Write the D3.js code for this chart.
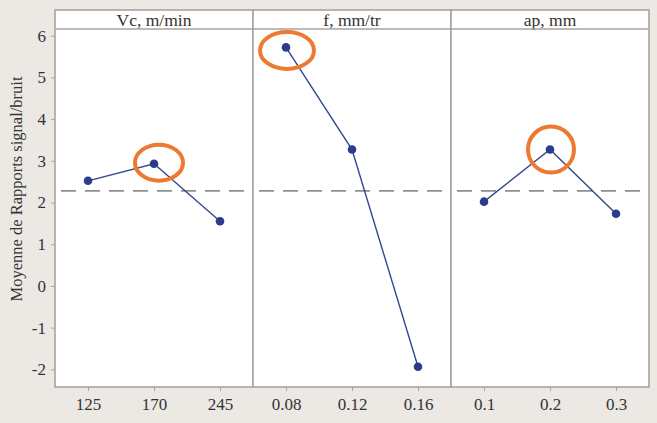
<!DOCTYPE html>
<html><head><meta charset="utf-8">
<script src="https://cdn.jsdelivr.net/npm/d3@7"></script>
<style>
html,body{margin:0;padding:0;background:#ece9e5;}
svg{display:block;}
text{font-family:"Liberation Serif","DejaVu Serif",serif;fill:#333;}
</style></head>
<body>
<svg id="chart" width="657" height="423"></svg>
<script>
const factors = ["Vc, m/min", "f, mm/tr", "ap, mm"];
const levelsVc = ["125", "170", "245"];
const levelsF = ["0.08", "0.12", "0.16"];
const levelsAp = ["0.1", "0.2", "0.3"];
const valuesVc = [2.52, 2.93, 1.55];
const valuesF = [5.72, 3.27, -1.94];
const valuesAp = [2.02, 3.27, 1.73];
const grandMean = 2.28;
const yTicks = [-2, -1, 0, 1, 2, 3, 4, 5, 6];
const highlighted = ["170", "0.08", "0.2"];

const panels = [
  {name: factors[0], levels: levelsVc, values: valuesVc, hl: highlighted[0]},
  {name: factors[1], levels: levelsF, values: valuesF, hl: highlighted[1]},
  {name: factors[2], levels: levelsAp, values: valuesAp, hl: highlighted[2]}
];

const svg = d3.select("#chart");
const mLeft = 55, mRight = 649, mTop = 10, stripH = 19, mBottom = 387;
const plotTop = mTop + stripH;
const panelW = (mRight - mLeft) / panels.length;

const y = d3.scaleLinear().domain([-2, 6]).range([369.3, 35.7]);

const frameColor = "#aaa39c";
const lineColor = "#34478f";
const dotColor = "#2b3d8a";
const orange = "#ed7a30";
const textColor = "#383838";

panels.forEach((p, i) => {
  const x0 = mLeft + i * panelW;
  const g = svg.append("g");
  g.append("rect").attr("x", x0).attr("y", plotTop).attr("width", panelW).attr("height", mBottom - plotTop)
    .attr("fill", "#fff");
  g.append("rect").attr("x", x0).attr("y", mTop).attr("width", panelW).attr("height", stripH)
    .attr("fill", "#fff");
  g.append("text").attr("x", x0 + panelW / 2).attr("y", mTop + 15.5).attr("text-anchor", "middle")
    .attr("font-size", 17.5).attr("fill", textColor).text(p.name);

  const x = d3.scalePoint().domain(p.levels).range([x0, x0 + panelW]).padding(0.5);

  g.append("line").attr("x1", x0 + 6).attr("x2", x0 + panelW - 6)
    .attr("y1", y(grandMean)).attr("y2", y(grandMean))
    .attr("stroke", "#8f8f8f").attr("stroke-width", 1.8).attr("stroke-dasharray", "15,9");

  const pts = p.levels.map((l, k) => [x(l), y(p.values[k])]);
  g.append("path").attr("d", d3.line()(pts)).attr("fill", "none")
    .attr("stroke", lineColor).attr("stroke-width", 1.4);
  g.selectAll("circle.dot").data(pts).join("circle").attr("class", "dot")
    .attr("cx", d => d[0]).attr("cy", d => d[1]).attr("r", 4.3).attr("fill", dotColor);

  const hk = p.levels.indexOf(p.hl);
  const ell = [{dx: 5, dy: -1, rx: 24, ry: 18}, {dx: 1, dy: 3, rx: 27, ry: 18.5}, {dx: 1, dy: 0, rx: 23, ry: 23}][i];
  g.append("ellipse").attr("cx", x(p.hl) + ell.dx).attr("cy", y(p.values[hk]) + ell.dy)
    .attr("rx", ell.rx).attr("ry", ell.ry).attr("fill", "none")
    .attr("stroke", orange).attr("stroke-width", 4);

  const ax = g.append("g").attr("transform", `translate(0,${mBottom})`)
    .call(d3.axisBottom(x).tickSize(4).tickSizeOuter(0).tickPadding(7));
  ax.select(".domain").remove();
  ax.selectAll(".tick line").attr("stroke", frameColor);
  ax.selectAll(".tick text").attr("font-size", 17).attr("fill", textColor)
    .attr("font-family", "Liberation Serif, serif");

  g.append("rect").attr("x", x0).attr("y", mTop).attr("width", panelW).attr("height", mBottom - mTop)
    .attr("fill", "none").attr("stroke", frameColor).attr("stroke-width", 1.6);
  g.append("line").attr("x1", x0).attr("x2", x0 + panelW).attr("y1", plotTop).attr("y2", plotTop)
    .attr("stroke", frameColor).attr("stroke-width", 1.6);
});

const ay = svg.append("g").attr("transform", `translate(${mLeft},0)`)
  .call(d3.axisLeft(y).tickValues(yTicks).tickSize(4).tickPadding(5).tickFormat(d => String(d)));
ay.select(".domain").remove();
ay.selectAll(".tick line").attr("stroke", frameColor);
ay.selectAll(".tick text").attr("font-size", 17).attr("fill", textColor)
  .attr("font-family", "Liberation Serif, serif");

svg.append("text").attr("transform", "translate(22,189) rotate(-90)").attr("text-anchor", "middle")
  .attr("font-size", 16.5).attr("fill", textColor).text("Moyenne de Rapports signal/bruit");
</script>
</body></html>
